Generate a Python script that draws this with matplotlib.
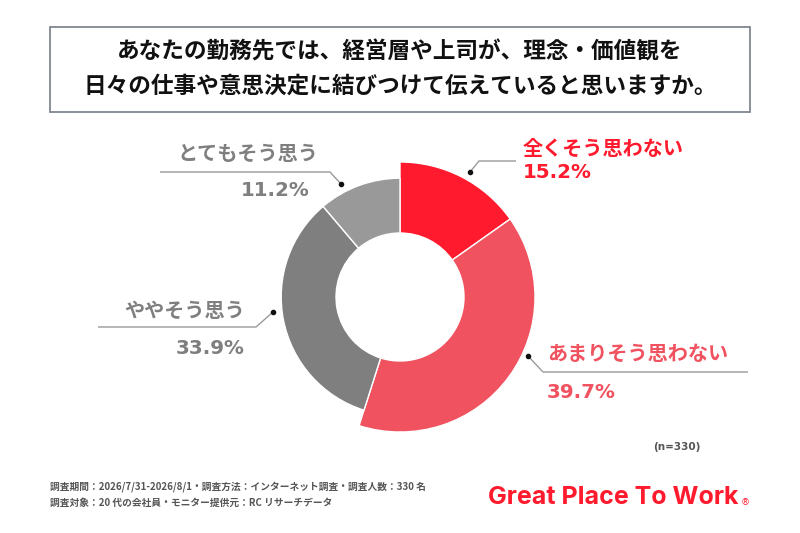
import matplotlib
matplotlib.use("Agg")
import matplotlib.pyplot as plt
from matplotlib.patches import Rectangle

plt.rcParams["font.family"] = ["Noto Sans CJK JP", "DejaVu Sans"]

# data (clockwise from 12 o'clock)
labels = ["全くそう思わない", "あまりそう思わない", "ややそう思う", "とてもそう思う"]
values = [15.2, 39.7, 33.9, 11.2]
colors = ["#FF1A2D", "#F0525F", "#7F7F7F", "#999999"]
radii = [1.0, 1.0, 0.88, 0.88]
title_lines = [
    "あなたの勤務先では、経営層や上司が、理念・価値観を",
    "日々の仕事や意思決定に結びつけて伝えていると思いますか。",
]
footer_lines = [
    "調査期間：2026/7/31-2026/8/1・調査方法：インターネット調査・調査人数：330 名",
    "調査対象：20 代の会社員・モニター提供元：RC リサーチデータ",
]
n_text = "(n=330)"

W, H = 800, 533
fig = plt.figure(figsize=(8, 5.33), dpi=100)

# overlay in pixel coordinates
ov = fig.add_axes([0, 0, 1, 1])
ov.set_xlim(0, W)
ov.set_ylim(H, 0)
ov.axis("off")

# title box
ov.add_patch(Rectangle((50, 27), 700, 85, fill=False, edgecolor="#7F8790", lw=1.3))
for i, line in enumerate(title_lines):
    ov.text(400, 52 + i * 34, line, ha="center", va="center",
            fontsize=16.3, fontweight="bold", color="#111111")

# donut
cx, cy, R = 400, 297, 135
box = 140
dax = fig.add_axes([(cx - box) / W, (H - cy - box) / H, 2 * box / W, 2 * box / H])
inner = 64 / R
wedges, _ = dax.pie(values, colors=colors, startangle=90, counterclock=False,
                    wedgeprops=dict(edgecolor="white", linewidth=1.0))
for w, r in zip(wedges, radii):
    w.set_radius(r)
    w.set_width(r - inner)
lim = box / R
dax.set_xlim(-lim, lim)
dax.set_ylim(-lim, lim)
dax.set_aspect("equal")
dax.axis("off")

# leader lines: (points), dot at first point
leaders = [
    [(470, 172), (479, 161), (516, 161)],
    [(528, 356), (543, 372), (748, 372)],
    [(273, 312), (256, 327), (98, 327)],
    [(341, 184), (330, 172), (160, 172)],
]
for pts in leaders:
    xs, ys = zip(*pts)
    ov.plot(xs, ys, color="#9A9A9A", lw=1.0, solid_capstyle="butt")
    ov.plot(xs[0], ys[0], "o", color="#111111", ms=3)

lab_fs = 14.5
pct_fs = 14.3
pct_font = ["DejaVu Sans"]
# 全くそう思わない
ov.text(523, 148, labels[0], ha="left", va="center", fontsize=lab_fs,
        fontweight="bold", color=colors[0])
ov.text(523, 173, f"{values[0]:.1f}%", ha="left", va="center", fontsize=pct_fs,
        fontweight="bold", color=colors[0], family=pct_font)
# あまりそう思わない
ov.text(547, 353, labels[1], ha="left", va="center", fontsize=lab_fs,
        fontweight="bold", color=colors[1])
ov.text(547, 393, f"{values[1]:.1f}%", ha="left", va="center", fontsize=pct_fs,
        fontweight="bold", color=colors[1], family=pct_font)
# ややそう思う
ov.text(245, 310, labels[2], ha="right", va="center", fontsize=lab_fs,
        fontweight="bold", color="#7F7F7F")
ov.text(245, 348, f"{values[2]:.1f}%", ha="right", va="center", fontsize=pct_fs,
        fontweight="bold", color="#7F7F7F", family=pct_font)
# とてもそう思う
ov.text(318, 153, labels[3], ha="right", va="center", fontsize=lab_fs,
        fontweight="bold", color="#7F7F7F")
ov.text(310, 190, f"{values[3]:.1f}%", ha="right", va="center", fontsize=pct_fs,
        fontweight="bold", color="#7F7F7F", family=pct_font)

# sample size
ov.text(700, 447, n_text, ha="right", va="center", fontsize=7.5,
        fontweight="bold", color="#555555", family=pct_font)

# footer
for i, line in enumerate(footer_lines):
    ov.text(50, 487 + i * 16, line, ha="left", va="center", fontsize=7,
            fontweight="bold", color="#555555")

# logo text
ov.text(488, 497, "Great Place To Work", ha="left", va="center",
        fontsize=18, fontweight="bold", color="#FF1A2D", family="Inter")
ov.text(741, 503, "®", ha="left", va="center", fontsize=6.5, color="#FF1A2D",
        family=pct_font)

fig.savefig("out.png", dpi=100, facecolor="white")
